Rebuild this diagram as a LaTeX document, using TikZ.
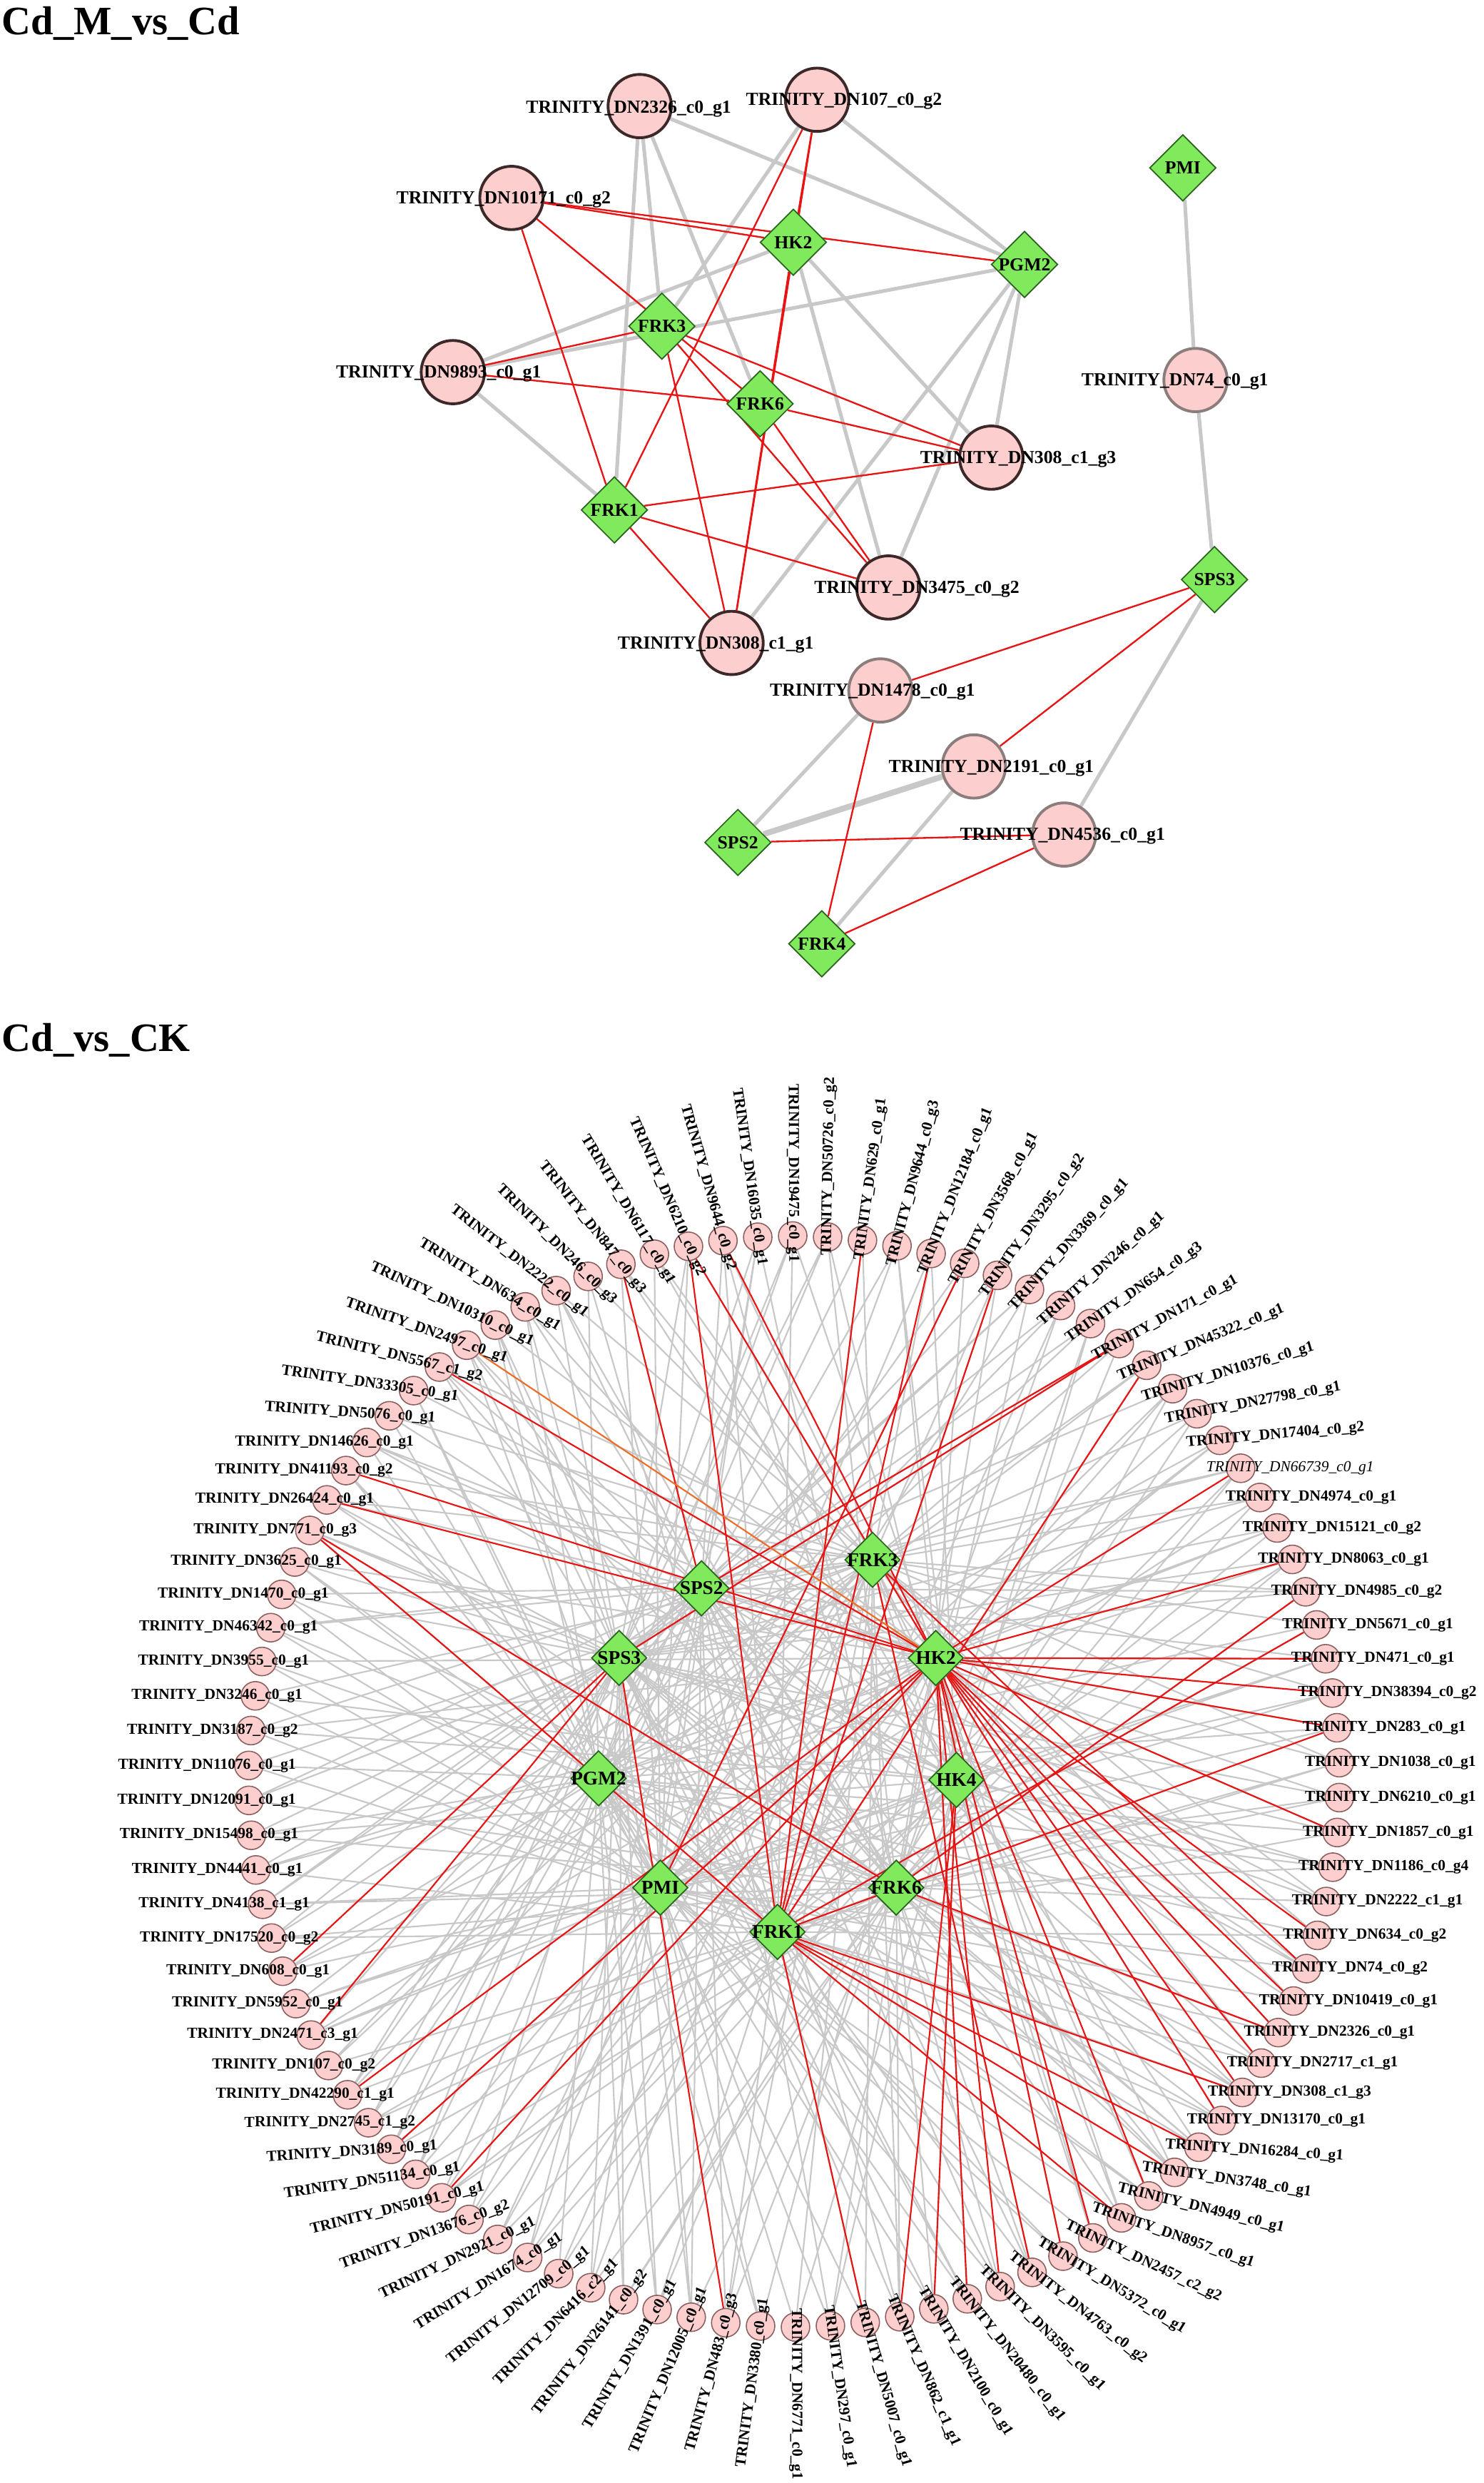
\documentclass[tikz,border=0pt]{standalone}
\usepackage{fontspec}
\setmainfont{Liberation Serif}
\usetikzlibrary{shapes.geometric,backgrounds}
\definecolor{npink}{RGB}{252,206,206}
\definecolor{ndark}{RGB}{60,40,40}
\definecolor{ngrey}{RGB}{140,125,125}
\definecolor{gfill}{RGB}{128,234,92}
\definecolor{gline}{RGB}{40,100,30}
\definecolor{egrey}{RGB}{200,200,200}
\definecolor{ered}{RGB}{232,20,20}
\definecolor{eorange}{RGB}{235,110,40}
\definecolor{rborder}{RGB}{140,95,95}
\def\ringlist{TRINITY\_DN629\_c0\_g1,
TRINITY\_DN9644\_c0\_g3,
TRINITY\_DN12184\_c0\_g1,
TRINITY\_DN3568\_c0\_g1,
TRINITY\_DN3295\_c0\_g2,
TRINITY\_DN3369\_c0\_g1,
TRINITY\_DN246\_c0\_g1,
TRINITY\_DN654\_c0\_g3,
TRINITY\_DN171\_c0\_g1,
TRINITY\_DN45322\_c0\_g1,
TRINITY\_DN10376\_c0\_g1,
TRINITY\_DN27798\_c0\_g1,
TRINITY\_DN17404\_c0\_g2,
{\mdseries\itshape TRINITY\_DN66739\_c0\_g1},
TRINITY\_DN4974\_c0\_g1,
TRINITY\_DN15121\_c0\_g2,
TRINITY\_DN8063\_c0\_g1,
TRINITY\_DN4985\_c0\_g2,
TRINITY\_DN5671\_c0\_g1,
TRINITY\_DN471\_c0\_g1,
TRINITY\_DN38394\_c0\_g2,
TRINITY\_DN283\_c0\_g1,
TRINITY\_DN1038\_c0\_g1,
TRINITY\_DN6210\_c0\_g1,
TRINITY\_DN1857\_c0\_g1,
TRINITY\_DN1186\_c0\_g4,
TRINITY\_DN2222\_c1\_g1,
TRINITY\_DN634\_c0\_g2,
TRINITY\_DN74\_c0\_g2,
TRINITY\_DN10419\_c0\_g1,
TRINITY\_DN2326\_c0\_g1,
TRINITY\_DN2717\_c1\_g1,
TRINITY\_DN308\_c1\_g3,
TRINITY\_DN13170\_c0\_g1,
TRINITY\_DN16284\_c0\_g1,
TRINITY\_DN3748\_c0\_g1,
TRINITY\_DN4949\_c0\_g1,
TRINITY\_DN8957\_c0\_g1,
TRINITY\_DN2457\_c2\_g2,
TRINITY\_DN5372\_c0\_g1,
TRINITY\_DN4763\_c0\_g2,
TRINITY\_DN3595\_c0\_g1,
TRINITY\_DN20480\_c0\_g1,
TRINITY\_DN2100\_c0\_g1,
TRINITY\_DN862\_c1\_g1,
TRINITY\_DN5007\_c0\_g1,
TRINITY\_DN297\_c0\_g1,
TRINITY\_DN6771\_c0\_g1,
TRINITY\_DN3380\_c0\_g1,
TRINITY\_DN483\_c0\_g3,
TRINITY\_DN12005\_c0\_g1,
TRINITY\_DN1391\_c0\_g1,
TRINITY\_DN26141\_c0\_g2,
TRINITY\_DN6416\_c2\_g1,
TRINITY\_DN12709\_c0\_g1,
TRINITY\_DN1674\_c0\_g1,
TRINITY\_DN2921\_c0\_g1,
TRINITY\_DN13676\_c0\_g2,
TRINITY\_DN50191\_c0\_g1,
TRINITY\_DN51134\_c0\_g1,
TRINITY\_DN3189\_c0\_g1,
TRINITY\_DN2745\_c1\_g2,
TRINITY\_DN42290\_c1\_g1,
TRINITY\_DN107\_c0\_g2,
TRINITY\_DN2471\_c3\_g1,
TRINITY\_DN5952\_c0\_g1,
TRINITY\_DN608\_c0\_g1,
TRINITY\_DN17520\_c0\_g2,
TRINITY\_DN4138\_c1\_g1,
TRINITY\_DN4441\_c0\_g1,
TRINITY\_DN15498\_c0\_g1,
TRINITY\_DN12091\_c0\_g1,
TRINITY\_DN11076\_c0\_g1,
TRINITY\_DN3187\_c0\_g2,
TRINITY\_DN3246\_c0\_g1,
TRINITY\_DN3955\_c0\_g1,
TRINITY\_DN46342\_c0\_g1,
TRINITY\_DN1470\_c0\_g1,
TRINITY\_DN3625\_c0\_g1,
TRINITY\_DN771\_c0\_g3,
TRINITY\_DN26424\_c0\_g1,
TRINITY\_DN41193\_c0\_g2,
TRINITY\_DN14626\_c0\_g1,
TRINITY\_DN5076\_c0\_g1,
TRINITY\_DN33305\_c0\_g1,
TRINITY\_DN5567\_c1\_g2,
TRINITY\_DN2497\_c0\_g1,
TRINITY\_DN10310\_c0\_g1,
TRINITY\_DN634\_c0\_g1,
TRINITY\_DN2222\_c0\_g1,
TRINITY\_DN246\_c0\_g3,
TRINITY\_DN847\_c0\_g3,
TRINITY\_DN6117\_c0\_g1,
TRINITY\_DN6210\_c0\_g2,
TRINITY\_DN9644\_c0\_g2,
TRINITY\_DN16035\_c0\_g1,
TRINITY\_DN19475\_c0\_g1,
TRINITY\_DN50726\_c0\_g2}
\begin{document}
\begin{tikzpicture}[x=0.02cm,y=-0.02cm,
  titl/.style={font=\fontsize{14.5}{16}\selectfont\bfseries, inner sep=0},
  tN/.style={circle, fill=npink, draw=ndark, line width=1pt, minimum size=0.8cm, inner sep=0},
  tNg/.style={tN, draw=ngrey},
  geneT/.style={diamond, fill=gfill, draw=gline, line width=0.45pt, minimum width=0.84cm, minimum height=0.84cm, inner sep=0},
  geneB/.style={diamond, fill=gfill, draw=gline, line width=0.45pt, minimum width=0.70cm, minimum height=0.70cm, inner sep=0},
  glT/.style={font=\fontsize{6.6}{7}\selectfont\bfseries, inner sep=0},
  glB/.style={font=\fontsize{7}{8}\selectfont\bfseries, inner sep=0},
  tlab/.style={font=\fontsize{6.6}{7}\selectfont\bfseries, inner sep=0},
  ringN/.style={circle, fill=npink, draw=rborder, line width=0.4pt, minimum size=0.36cm, inner sep=0},
  ringL/.style={font=\fontsize{5.5}{6}\selectfont\bfseries, inner sep=0},
  gE/.style={draw=egrey, line width=1.3pt},
  gEthick/.style={draw=egrey, line width=2.1pt},
  rE/.style={draw=ered, line width=0.6pt},
  gEb/.style={draw=egrey, line width=0.55pt},
  rEb/.style={draw=ered, line width=0.55pt},
  oEb/.style={draw=eorange, line width=0.55pt}]
\useasboundingbox (0,0) rectangle (937,1568);

% ---------- titles ----------
\node[titl, anchor=north west] (title1) at (1,4) {Cd\_M\_vs\_Cd};
\node[titl, anchor=north west] (title2) at (1,646) {Cd\_vs\_CK};

% ---------- top panel nodes ----------
\node[tN]  (a2326)  at (404,67)  {};
\node[tN]  (a107)   at (516,63)  {};
\node[tN]  (a10171) at (323,125) {};
\node[tN]  (a9893)  at (286,235) {};
\node[tNg] (a74)    at (755,240) {};
\node[tN]  (a308g3) at (626,289) {};
\node[tN]  (a3475)  at (561,371) {};
\node[tN]  (a308g1) at (462,406) {};
\node[tNg] (a1478)  at (556,436) {};
\node[tNg] (a2191)  at (615,484) {};
\node[tNg] (a4536)  at (672,527) {};

\node[geneT, label={[glT]center:HK2}]  (gHK2)  at (501,153) {};
\node[geneT, label={[glT]center:FRK3}] (gFRK3) at (418,206) {};
\node[geneT, label={[glT]center:PGM2}] (gPGM2) at (647,167) {};
\node[geneT, label={[glT]center:FRK6}] (gFRK6) at (480,255) {};
\node[geneT, label={[glT]center:FRK1}] (gFRK1) at (388,322) {};
\node[geneT, label={[glT]center:PMI}]  (gPMI)  at (747,106) {};
\node[geneT, label={[glT]center:SPS3}] (gSPS3) at (767,366) {};
\node[geneT, label={[glT]center:SPS2}] (gSPS2) at (466,532) {};
\node[geneT, label={[glT]center:FRK4}] (gFRK4) at (519,596) {};

\begin{pgfonlayer}{background}
  % grey
  \draw[gE] (a2326) -- (gPGM2);
  \draw[gE] (a2326) -- (gFRK3);
  \draw[gE] (a2326) -- (gFRK1);
  \draw[gE] (a2326) -- (gFRK6);
  \draw[gE] (a107) -- (gPGM2);
  \draw[gE] (a107) -- (gFRK3);
  \draw[gE] (a9893) -- (gHK2);
  \draw[gE] (a9893) -- (gPGM2);
  \draw[gE] (a9893) -- (gFRK1);
  \draw[gE] (gHK2) -- (a308g3);
  \draw[gE] (gHK2) -- (a3475);
  \draw[gE] (gPGM2) -- (a308g3);
  \draw[gE] (gPGM2) -- (a3475);
  \draw[gE] (gPGM2) -- (a308g1);
  \draw[gE] (gPMI) -- (a74);
  \draw[gE] (a74) -- (gSPS3);
  \draw[gE] (gSPS3) -- (a4536);
  \draw[gE] (a1478) -- (gSPS2);
  \draw[gEthick] (a2191) -- (gSPS2);
  \draw[gE] (a2191) -- (gFRK4);
  % red
  \draw[rE] (a10171) -- (gHK2);
  \draw[rE] (a10171) -- (gPGM2);
  \draw[rE] (a10171) -- (gFRK6);
  \draw[rE] (a10171) -- (gFRK1);
  \draw[rE] (a9893) -- (gFRK3);
  \draw[rE] (a9893) -- (gFRK6);
  \draw[rE] (a107) -- (gHK2);
  \draw[rE] (a107) -- (gFRK1);
  \draw[rE] (a107) -- (a308g1);
  \draw[rE] (gHK2) -- (a308g1);
  \draw[rE] (gFRK3) -- (a308g3);
  \draw[rE] (gFRK3) -- (a3475);
  \draw[rE] (gFRK3) -- (a308g1);
  \draw[rE] (gFRK6) -- (a308g3);
  \draw[rE] (gFRK6) -- (a3475);
  \draw[rE] (gFRK1) -- (a308g3);
  \draw[rE] (gFRK1) -- (a3475);
  \draw[rE] (gFRK1) -- (a308g1);
  \draw[rE] (gSPS3) -- (a1478);
  \draw[rE] (gSPS3) -- (a2191);
  \draw[rE] (a1478) -- (gFRK4);
  \draw[rE] (gSPS2) -- (a4536);
  \draw[rE] (gFRK4) -- (a4536);
\end{pgfonlayer}

\node[tlab] (l2326)  at (397,69)  {TRINITY\_DN2326\_c0\_g1};
\node[tlab] (l107)   at (533,64)  {TRINITY\_DN107\_c0\_g2};
\node[tlab] (l10171) at (318,126) {TRINITY\_DN10171\_c0\_g2};
\node[tlab] (l9893)  at (277,236) {TRINITY\_DN9893\_c0\_g1};
\node[tlab] (l74)    at (742,241) {TRINITY\_DN74\_c0\_g1};
\node[tlab] (l308g3) at (643,290) {TRINITY\_DN308\_c1\_g3};
\node[tlab] (l3475)  at (579,372) {TRINITY\_DN3475\_c0\_g2};
\node[tlab] (l308g1) at (452,407) {TRINITY\_DN308\_c1\_g1};
\node[tlab] (l1478)  at (551,437) {TRINITY\_DN1478\_c0\_g1};
\node[tlab] (l2191)  at (626,485) {TRINITY\_DN2191\_c0\_g1};
\node[tlab] (l4536)  at (671,528) {TRINITY\_DN4536\_c0\_g1};

% ---------- bottom panel hubs ----------
\node[geneB, label={[glB]center:FRK3}] (b0) at (551,985)  {};
\node[geneB, label={[glB]center:SPS2}] (b1) at (443,1003) {};
\node[geneB, label={[glB]center:HK2}]  (b2) at (591,1047) {};
\node[geneB, label={[glB]center:SPS3}] (b3) at (391,1047) {};
\node[geneB, label={[glB]center:HK4}]  (b4) at (604,1124) {};
\node[geneB, label={[glB]center:PGM2}] (b5) at (378,1123) {};
\node[geneB, label={[glB]center:PMI}]  (b6) at (417,1192) {};
\node[geneB, label={[glB]center:FRK6}] (b7) at (566,1192) {};
\node[geneB, label={[glB]center:FRK1}] (b8) at (491,1220) {};

% ring nodes + grey edges
\foreach \lab [count=\i] in \ringlist {
  \pgfmathsetmacro\myth{82.8-(\i-1)*3.673469}
  \node[ringN] (r\i) at ({501.5+344.5*cos(\myth)},{1125-344.5*sin(\myth)}) {};
  \pgfmathtruncatemacro\ha{mod(\i*5,9)}
  \pgfmathtruncatemacro\hb{mod(\i*5+3,9)}
  \pgfmathtruncatemacro\hc{mod(\i*2+7,9)}
  \pgfmathtruncatemacro\hd{mod(\i*7+1,9)}
  \begin{pgfonlayer}{background}
    \draw[gEb] (r\i) -- (b\ha) (r\i) -- (b\hb) (r\i) -- (b\hc) (r\i) -- (b\hd);
  \end{pgfonlayer}
}

% red edges
\begin{pgfonlayer}{background}
\foreach \a/\b in {14/2,17/2,20/2,21/2,22/2,25/2,28/2,30/2,31/2,32/2,33/2,34/2,37/2,39/2,40/2,42/2,43/2,59/2,61/2,63/2,81/2,82/2,86/2,94/2,95/2,
  1/8,3/8,5/8,10/8,19/8,22/8,33/8,35/8,36/8,38/8,46/8,80/8,94/8,
  44/4,45/4,29/0,41/0,80/7,18/7,31/7,9/3,9/1,65/3,67/3,50/3,92/1,4/6}
  {\draw[rEb] (r\a) -- (b\b);}
\draw[oEb] (r87) -- (b2);
\end{pgfonlayer}

% ring labels
\foreach \lab [count=\i] in \ringlist {
  \pgfmathsetmacro\myth{82.8-(\i-1)*3.673469}
  \pgfmathsetmacro\mys{sin(\myth)}
  \pgfmathsetmacro\myc{cos(\myth)}
  \pgfmathsetmacro\myph{asin(abs(\mys))}
  \pgfmathsetmacro\myt{(\mys>0 && \myc>0) ? max(0,min(1,(\myph-35)/52)) : max(0,min(1,(\myph-38)/52))}
  \pgfmathsetmacro\myp{(\mys>0 && \myc>0) ? 1.1 : 1.25}
  \ifdim\myt pt<0.01pt
    \def\myrho{0}
  \else
    \pgfmathsetmacro\myrho{90*pow(\myt,\myp)}
  \fi
  \pgfmathsetmacro\myrot{(\mys*\myc>0) ? \myrho : -\myrho}
  \ifdim\myc pt>0pt
    \pgfmathsetmacro\myoff{22-10*\myrho/90}
    \node[ringL, rotate=\myrot, anchor=west] (q\i) at ({501.5+344.5*\myc-\myoff*cos(\myrot)},{1125-344.5*\mys+\myoff*sin(\myrot)}) {\lab};
  \else
    \pgfmathsetmacro\myoff{30-13*\myrho/90}
    \node[ringL, rotate=\myrot, anchor=east] (q\i) at ({501.5+344.5*\myc+\myoff*cos(\myrot)},{1125-344.5*\mys-\myoff*sin(\myrot)}) {\lab};
  \fi
}
\end{tikzpicture}
\end{document}
